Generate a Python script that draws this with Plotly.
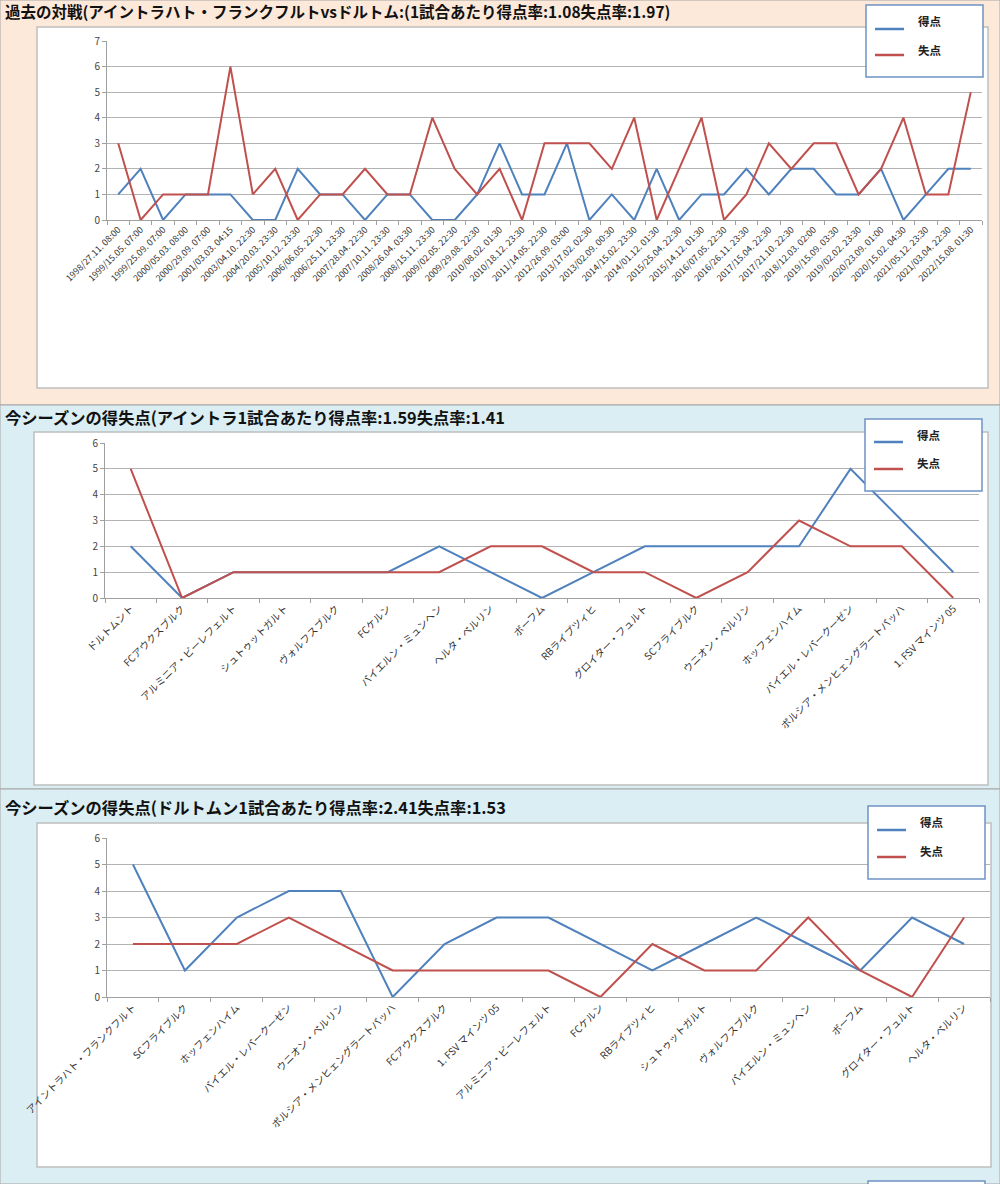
import plotly.graph_objects as go

W, H = 1000, 1184

# ---------------- DATA ----------------
h2h_dates = [
    "1998/27.11. 08:00", "1999/15.05. 07:00", "1999/25.09. 07:00", "2000/05.03. 08:00",
    "2000/29.09. 07:00", "2001/03.03. 04:15", "2003/04.10. 22:30", "2004/20.03. 23:30",
    "2005/10.12. 23:30", "2006/06.05. 22:30", "2006/25.11. 23:30", "2007/28.04. 22:30",
    "2007/10.11. 23:30", "2008/26.04. 03:30", "2008/15.11. 23:30", "2009/02.05. 22:30",
    "2009/29.08. 22:30", "2010/08.02. 01:30", "2010/18.12. 23:30", "2011/14.05. 22:30",
    "2012/26.09. 03:00", "2013/17.02. 02:30", "2013/02.09. 00:30", "2014/15.02. 23:30",
    "2014/01.12. 01:30", "2015/25.04. 22:30", "2015/14.12. 01:30", "2016/07.05. 22:30",
    "2016/26.11. 23:30", "2017/15.04. 22:30", "2017/21.10. 22:30", "2018/12.03. 02:00",
    "2019/15.09. 03:30", "2019/02.02. 23:30", "2020/23.09. 01:00", "2020/15.02. 04:30",
    "2021/05.12. 23:30", "2021/03.04. 22:30", "2022/15.08. 01:30",
]
h2h_scored = [1, 2, 0, 1, 1, 1, 0, 0, 2, 1, 1, 0, 1, 1, 0, 0, 1, 3, 1, 1,
              3, 0, 1, 0, 2, 0, 1, 1, 2, 1, 2, 2, 1, 1, 2, 0, 1, 2, 2]
h2h_conceded = [3, 0, 1, 1, 1, 6, 1, 2, 0, 1, 1, 2, 1, 1, 4, 2, 1, 2, 0, 3,
                3, 3, 2, 4, 0, 2, 4, 0, 1, 3, 2, 3, 3, 1, 2, 4, 1, 1, 5]

sge_opponents = [
    "ドルトムント", "FCアウクスブルク", "アルミニア・ビーレフェルト", "シュトゥットガルト",
    "ヴォルフスブルク", "FCケルン", "バイエルン・ミュンヘン", "ヘルタ・ベルリン", "ボーフム",
    "RBライプツィヒ", "グロイター・フュルト", "SCフライブルク", "ウニオン・ベルリン",
    "ホッフェンハイム", "バイエル・レバークーゼン", "ボルシア・メンヒェングラートバッハ",
    "1. FSV マインツ 05",
]
sge_scored = [2, 0, 1, 1, 1, 1, 2, 1, 0, 1, 2, 2, 2, 2, 5, 3, 1]
sge_conceded = [5, 0, 1, 1, 1, 1, 1, 2, 2, 1, 1, 0, 1, 3, 2, 2, 0]

bvb_opponents = [
    "アイントラハト・フランクフルト", "SCフライブルク", "ホッフェンハイム", "バイエル・レバークーゼン",
    "ウニオン・ベルリン", "ボルシア・メンヒェングラートバッハ", "FCアウクスブルク",
    "1. FSV マインツ 05", "アルミニア・ビーレフェルト", "FCケルン", "RBライプツィヒ",
    "シュトゥットガルト", "ヴォルフスブルク", "バイエルン・ミュンヘン", "ボーフム",
    "グロイター・フュルト", "ヘルタ・ベルリン",
]
bvb_scored = [5, 1, 3, 4, 4, 0, 2, 3, 3, 2, 1, 2, 3, 2, 1, 3, 2]
bvb_conceded = [2, 2, 2, 3, 2, 1, 1, 1, 1, 0, 2, 1, 1, 3, 1, 0, 3]

titles = [
    "過去の対戦(アイントラハト・フランクフルトvsドルトム:(1試合あたり得点率:1.08失点率:1.97)",
    "今シーズンの得失点(アイントラ1試合あたり得点率:1.59失点率:1.41",
    "今シーズンの得失点(ドルトムン1試合あたり得点率:2.41失点率:1.53",
]
series_names = ["得点", "失点"]
y_max = [7, 6, 6]

# ---------------- STYLE ----------------
FONT = "Noto Sans CJK JP, Noto Sans, sans-serif"
BLUE = "#4F81BD"
RED = "#C0504D"
GRID = "#B3B3B3"
PEACH = "#FDE9D9"
AQUA = "#DAEEF3"


def px(x):
    return x / W


def py(y):
    return 1 - y / H


panels = [
    dict(cats=h2h_dates, s=h2h_scored, c=h2h_conceded, bg=PEACH,
         band=(0, 405), box=(37, 27, 988, 388), plot=(107, 41, 982, 220),
         legend=(866, 5, 983, 77), leg_rows=(29, 55), leg_text=(21, 50),
         title_y=11, title_size=15.5, tickfont=9),
    dict(cats=sge_opponents, s=sge_scored, c=sge_conceded, bg=AQUA,
         band=(405, 789), box=(34, 432, 988, 785), plot=(105, 443, 979, 598),
         legend=(865, 419, 982, 491), leg_rows=(442, 469), leg_text=(435, 463),
         title_y=417, title_size=16.3, tickfont=10),
    dict(cats=bvb_opponents, s=bvb_scored, c=bvb_conceded, bg=AQUA,
         band=(789, 1184), box=(37, 823, 991, 1167), plot=(107, 838, 990, 997),
         legend=(868, 806, 985, 879), leg_rows=(830, 857), leg_text=(822, 851),
         title_y=807, title_size=16.3, tickfont=10),
]

fig = go.Figure()
shapes = []
annotations = []

for i, p in enumerate(panels):
    n = "" if i == 0 else str(i + 1)
    xa, ya = "x" + n, "y" + n
    for vals, name, col in ((p["s"], series_names[0], BLUE), (p["c"], series_names[1], RED)):
        fig.add_trace(go.Scatter(
            x=p["cats"], y=vals, mode="lines", name=name,
            line=dict(color=col, width=2), xaxis=xa, yaxis=ya, showlegend=False,
        ))
    x0, y0, x1, y1 = p["plot"]
    fig.layout["xaxis" + n] = dict(
        domain=[px(x0), px(x1)], anchor=ya, type="category", automargin=False,
        range=[-0.5, len(p["cats"]) - 0.5], tickson="boundaries",
        ticks="outside", ticklen=4, tickcolor="#A0A0A0",
        showline=True, linecolor="#A0A0A0", linewidth=1, showgrid=False,
        tickangle=-45, tickfont=dict(family=FONT, size=p["tickfont"], color="#333333"),
        fixedrange=True, zeroline=False,
    )
    fig.layout["yaxis" + n] = dict(
        domain=[py(y1), py(y0)], anchor=xa, range=[0, y_max[i]], dtick=1,
        automargin=False,
        ticks="outside", ticklen=4, tickcolor="#A0A0A0",
        showline=True, linecolor="#A0A0A0", linewidth=1,
        showgrid=True, gridcolor=GRID, gridwidth=1, zeroline=False,
        tickfont=dict(family=FONT, size=10, color="#444444"), fixedrange=True,
    )
    # panel background band
    b0, b1 = p["band"]
    shapes.append(dict(type="rect", xref="paper", yref="paper", layer="below",
                       x0=0, x1=1, y0=py(b1), y1=py(b0), fillcolor=p["bg"],
                       line=dict(color="#A6A6A6", width=1)))
    # white chart box
    bx0, by0, bx1, by1 = p["box"]
    shapes.append(dict(type="rect", xref="paper", yref="paper", layer="below",
                       x0=px(bx0), x1=px(bx1), y0=py(by1), y1=py(by0),
                       fillcolor="white", line=dict(color="#BFBFBF", width=1.5)))
    # title
    annotations.append(dict(text="<b>" + titles[i] + "</b>", xref="paper", yref="paper",
                            x=px(3), y=py(p["title_y"]), xanchor="left", yanchor="middle",
                            showarrow=False,
                            font=dict(family=FONT, size=p["title_size"], color="#111111")))
    # legend box (drawn manually)
    lx0, ly0, lx1, ly1 = p["legend"]
    shapes.append(dict(type="rect", xref="paper", yref="paper", layer="above",
                       x0=px(lx0), x1=px(lx1), y0=py(ly1), y1=py(ly0),
                       fillcolor="white", line=dict(color="#6F93C6", width=1.5)))
    for k, col in enumerate((BLUE, RED)):
        ry = p["leg_rows"][k]
        shapes.append(dict(type="line", xref="paper", yref="paper", layer="above",
                           x0=px(lx0 + 9), x1=px(lx0 + 38), y0=py(ry), y1=py(ry),
                           line=dict(color=col, width=2.5)))
        annotations.append(dict(text="<b>" + series_names[k] + "</b>", xref="paper", yref="paper",
                                x=px(lx0 + 64), y=py(p["leg_text"][k]), xanchor="center",
                                yanchor="middle", showarrow=False,
                                font=dict(family=FONT, size=11.5, color="#222222")))

# partial legend box of a following chart at the very bottom
shapes.append(dict(type="rect", xref="paper", yref="paper", layer="above",
                   x0=px(868), x1=px(985), y0=py(1195), y1=py(1181),
                   fillcolor="white", line=dict(color="#6F93C6", width=1.5)))

fig.update_layout(
    width=W, height=H, margin=dict(l=0, r=0, t=0, b=0, autoexpand=False),
    paper_bgcolor="white", plot_bgcolor="rgba(0,0,0,0)",
    shapes=shapes, annotations=annotations, showlegend=False,
    font=dict(family=FONT),
)

fig.write_html("out.html", config={"displayModeBar": False},
               post_script="document.body.style.margin='0';document.body.style.padding='0';")
